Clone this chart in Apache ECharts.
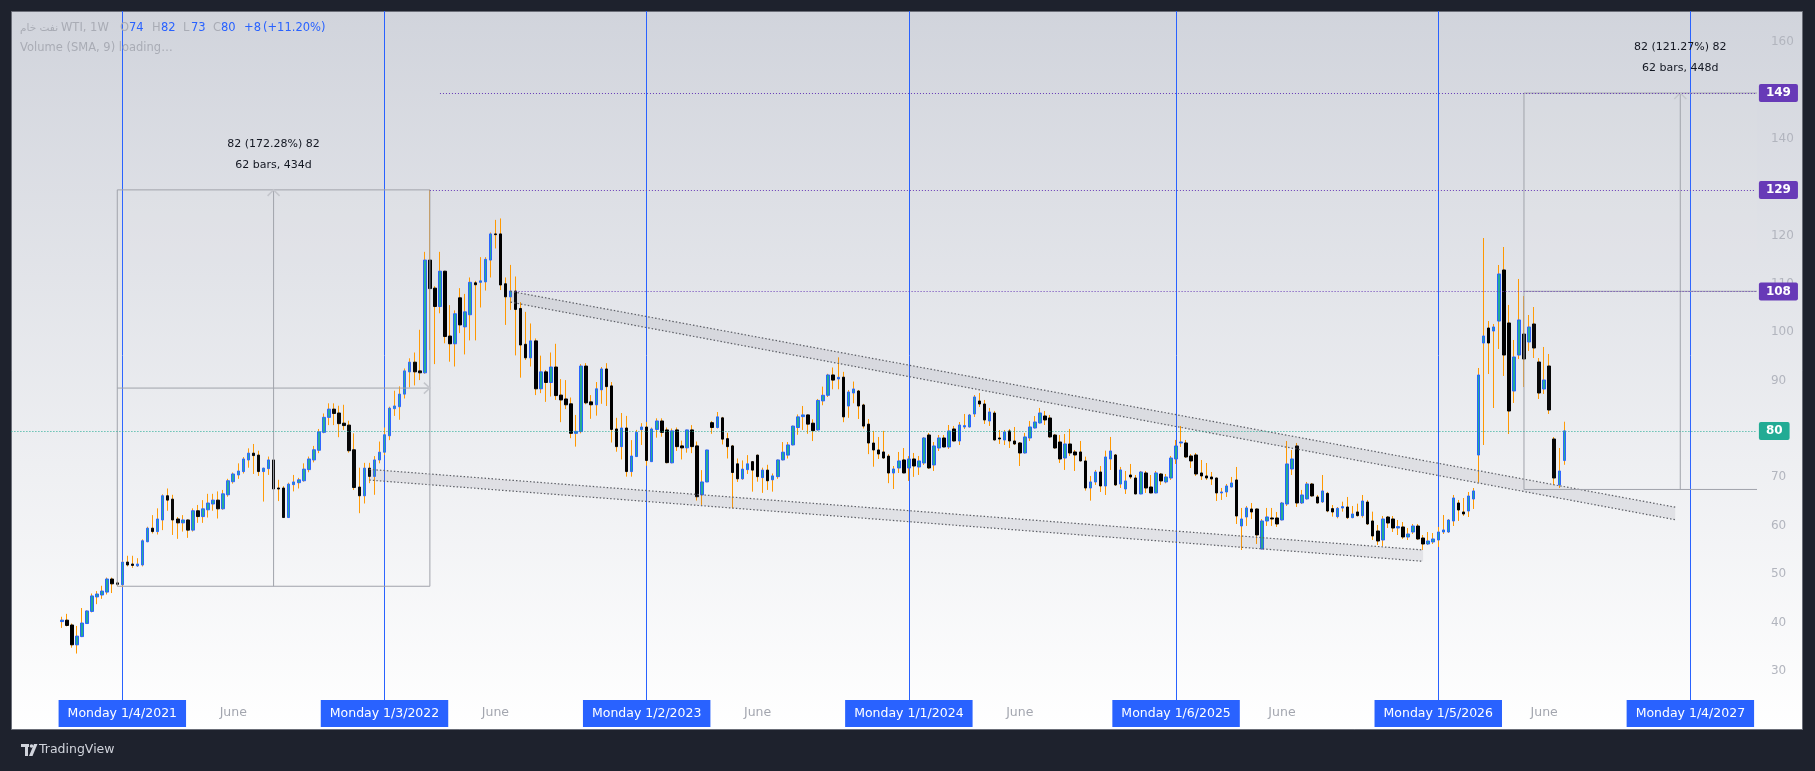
<!DOCTYPE html>
<html>
<head>
<meta charset="utf-8">
<script src="https://cdn.jsdelivr.net/npm/echarts@6/dist/echarts.min.js"></script>
<style>
html,body{margin:0;padding:0;background:#1e222d;overflow:hidden;}
#chart{width:1815px;height:771px;}
</style>
</head>
<body>
<div id="chart"></div>
<script>
// ---------- DATA ----------
const firstCategoryDate = '2020-08-03';   // weekly categories start here
const categoryCount = 347;
const firstCandleIndex = 10;              // first candle: week of 2020-10-12

const opens = [
40.2,40.5,39.5,35.4,37.1,39.8,42.3,45.3,45.7,46.3,49.0,48.2,
47.8,52.5,52.1,51.7,51.9,56.7,59.5,58.8,61.2,66.2,65.5,61.4,60.6,61.2,
59.1,63.1,61.9,63.3,64.5,65.3,63.5,66.4,69.1,70.5,71.2,73.6,75.0,74.6,
71.2,71.8,73.6,67.8,67.8,61.7,68.5,68.9,69.3,71.6,73.6,75.6,
79.3,82.4,84.1,83.3,81.2,80.8,75.7,68.0,66.2,71.9,70.2,73.6,
75.2,78.6,84.2,84.6,87.2,91.8,93.8,92.0,91.6,114.9,109.1,105.3,
112.6,99.2,97.6,107.1,101.1,103.6,110.2,110.3,110.4,114.9,120.3,120.3,
110.0,107.3,108.5,104.9,97.5,94.7,98.2,88.3,91.8,89.6,92.8,87.0,86.2,85.2,79.1,
79.45,93.0,85.6,85.0,88.1,92.4,88.9,80.0,76.35,80.2,71.2,74.3,79.86,80.4,
73.25,79.9,81.65,79.8,73.0,79.8,76.5,76.1,79.8,76.5,66.4,69.05,
81.3,80.3,82.3,78.0,76.5,72.8,69.7,71.6,73.25,74.6,69.95,71.5,69.5,
70.15,73.6,74.6,76.7,80.3,82.55,82.9,81.2,79.8,85.8,86.96,91.16,90.33,
90.7,84.75,87.44,87.85,84.96,81.0,77.1,75.66,75.25,74.4,70.9,71.94,73.6,
71.94,73.8,72.15,72.97,78.76,72.56,76.07,78.14,76.28,80.0,77.52,80.41,80.41,
83.1,85.78,85.16,81.65,83.3,78.14,77.73,79.59,77.52,77.11,75.04,78.14,80.2,
81.24,82.68,82.27,78.76,77.31,74.0,76.9,75.25,75.25,
73.39,67.81,69.05,71.11,68.22,73.8,74.63,68.63,67.6,70.49,69.87,66.57,70.91,
68.01,66.78,70.7,69.05,69.87,73.8,77.11,77.11,74.42,74.63,70.91,70.29,70.08,
69.87,66.78,66.98,68.01,69.46,59.96,61.82,63.47,63.47,55.2,60.99,61.61,61.61,
61.2,64.5,71.73,76.49,64.71,65.54,68.63,65.95,64.92,66.7,63.54,61.88,63.67,
63.88,61.68,62.85,62.09,64.91,60.99,58.92,57.06,61.81,61.4,59.54,59.75,57.68,
58.71,59.95,57.47,56.23,56.65,57.06,58.71,58.71,60.99,64.71,62.85,63.05,65.53,
74.62,97.76,100.86,100.24,102.3,112.85,101.9,87.85,95.28,99.62,97.97,101.69,93.84,88.26,93.01,77.93,68.43,73.5
];
const highs = [
41.2,41.8,39.8,39.3,43.0,42.5,46.0,46.5,47.6,49.3,49.3,48.5,
52.8,53.8,53.8,53.3,57.2,59.8,62.2,63.6,66.5,67.7,66.4,61.8,62.2,61.3,
63.6,64.3,65.3,66.6,66.6,67.1,67.4,69.7,71.0,72.9,74.2,76.0,76.9,75.5,
72.0,74.3,73.7,69.5,68.2,68.9,70.5,69.9,72.9,74.3,76.5,80.0,
83.2,85.3,85.3,84.8,85.0,81.7,79.1,72.0,73.0,73.0,74.4,77.4,
80.3,84.6,87.9,88.8,92.5,94.6,95.8,100.5,116.6,129.4,109.5,116.6,
112.7,105.6,104.5,109.1,107.9,111.3,110.6,115.5,115.5,120.6,123.2,123.5,
111.3,113.9,111.5,106.2,104.2,101.8,98.7,95.15,92.2,95.8,97.6,90.3,90.1,86.5,82.9,
93.4,93.6,87.0,89.7,92.8,93.6,89.7,82.3,83.3,82.7,77.7,79.8,81.2,81.45,
80.3,82.2,82.2,80.3,80.1,80.3,77.6,79.85,80.8,77.4,71.5,75.7,
81.65,83.5,82.5,79.2,76.7,73.9,73.5,74.6,73.3,74.7,72.0,72.6,70.8,
73.7,77.3,77.3,80.7,83.0,84.75,83.0,82.0,86.2,88.75,91.4,92.7,94.8,
91.8,88.06,89.8,88.06,85.2,82.06,79.6,78.35,79.6,74.8,72.35,75.25,76.07,
74.4,75.04,74.42,78.35,79.17,77.31,78.76,78.76,80.82,80.62,81.44,83.1,83.1,
87.02,87.44,85.99,84.34,83.72,79.79,79.79,80.0,80.41,77.3,79.17,81.65,82.68,
84.34,83.72,82.89,78.97,78.76,78.97,80.0,75.66,77.52,
74.28,70.29,71.53,72.35,75.52,78.35,74.83,72.15,71.32,72.77,70.49,71.32,71.32,
70.49,71.32,70.91,70.7,74.42,77.73,80.62,77.73,74.83,75.04,73.59,72.97,71.11,
69.95,67.81,68.63,70.08,72.15,63.68,64.09,64.71,63.6,61.4,63.68,63.68,62.85,
64.92,77.52,75.66,77.11,67.4,69.05,68.84,66.36,70.49,67.0,64.29,63.88,64.98,
65.95,64.09,64.57,66.36,65.33,62.92,60.16,62.02,62.02,62.02,61.19,60.78,59.54,
60.37,60.37,58.09,58.71,58.5,59.75,62.23,61.4,66.36,65.33,65.74,66.98,67.8,
92.6,119.46,102.3,101.69,113.88,117.6,105.62,98.38,110.99,107.47,103.55,105.2,94.66,96.94,95.49,78.34,76.07,81.5
];
const lows = [
38.9,39.2,34.8,33.6,37.0,39.7,42.1,43.8,44.9,45.8,46.1,47.5,
47.3,51.6,51.3,51.5,51.6,56.6,58.4,58.2,59.1,63.1,58.1,57.3,58.8,57.5,
58.8,60.6,60.6,61.7,63.1,61.5,63.3,66.0,68.7,69.7,70.8,72.0,70.7,70.3,
65.0,70.5,67.5,65.1,61.6,61.6,67.1,67.7,69.1,71.05,73.1,75.0,
79.1,80.8,80.8,78.3,79.8,75.1,67.4,62.6,64.6,68.8,66.4,72.9,
74.6,77.7,82.7,81.9,86.3,88.6,89.0,90.1,91.4,96.3,93.4,103.9,
97.7,93.9,92.9,99.8,95.4,98.3,98.3,105.1,108.6,111.3,117.3,108.7,
101.5,104.6,95.2,90.6,94.25,92.9,87.0,87.4,85.6,86.7,86.0,81.4,84.1,78.1,76.35,
79.1,85.1,82.1,82.75,85.2,84.75,77.2,75.3,73.7,70.15,70.15,74.2,76.7,72.4,
73.2,78.2,78.4,72.9,72.9,75.45,73.7,75.1,75.0,65.2,64.3,69.0,
79.0,80.1,76.8,73.9,63.6,69.05,69.5,70.7,67.05,69.1,66.8,67.4,67.05,
69.7,73.5,73.9,76.6,78.8,79.8,79.0,77.5,79.65,84.9,86.6,88.2,88.2,
81.4,82.3,85.3,82.06,80.1,74.8,72.2,73.8,73.8,68.8,67.6,70.9,70.85,
69.26,70.1,70.5,72.56,71.73,71.32,75.45,76.2,75.87,77.4,76.69,80.0,80.3,
82.48,84.54,81.03,80.62,77.6,76.9,76.69,76.07,76.69,72.35,74.9,77.52,80.1,
81.1,80.82,78.2,75.9,72.97,71.53,74.42,71.32,73.3,
67.26,65.19,68.43,66.98,66.36,71.53,68.22,67.81,66.57,69.67,66.5,66.5,66.78,
66.7,66.7,68.43,68.77,69.46,72.77,76.28,74.0,71.94,70.29,69.46,69.46,68.43,
65.12,65.33,65.95,67.9,60.37,54.99,59.96,61.4,56.24,55.1,59.96,59.96,59.75,
61.1,64.09,70.49,63.88,64.5,65.4,66.0,64.6,64.71,62.8,61.88,61.54,62.92,
61.4,61.54,61.9,61.68,60.16,57.06,56.03,55.82,59.54,58.71,58.09,57.27,57.06,
58.3,57.06,55.0,56.03,56.23,55.62,58.3,58.5,59.95,60.99,62.02,61.81,63.47,
68.91,76.69,91.36,84.33,96.52,90.95,78.96,85.37,94.46,88.67,96.11,94.66,86.19,87.23,83.09,68.43,67.81,72.6
];
const closes = [
40.5,39.4,35.4,37.2,39.9,42.4,45.5,45.9,46.5,49.0,48.0,47.9,
52.5,51.9,51.8,52.1,56.9,59.5,58.8,61.4,66.2,65.3,61.2,60.6,61.2,59.1,
63.1,61.9,63.5,64.7,65.3,63.5,66.6,69.3,70.7,71.3,73.8,75.0,74.5,71.2,
71.9,73.6,67.6,67.6,61.7,68.6,69.05,69.5,71.7,73.8,75.7,79.4,
82.4,84.1,83.2,81.1,80.7,75.5,67.9,66.2,71.9,70.2,73.6,75.2,
78.8,84.3,84.75,87.2,92.0,93.8,91.8,91.6,114.9,109.0,105.3,112.6,
99.1,97.6,103.8,101.5,104.2,110.3,109.8,110.6,115.05,120.3,120.15,109.75,
107.3,108.5,104.7,97.35,94.7,98.2,88.3,91.8,89.6,92.8,86.9,86.0,85.0,79.1,79.5,
93.0,85.4,85.0,88.3,92.4,88.75,79.9,76.35,80.2,71.2,74.4,79.3,80.4,73.5,
80.0,81.65,79.3,73.04,79.6,76.35,76.1,79.8,76.35,66.0,69.05,75.66,
80.3,82.5,77.9,76.35,71.0,69.7,71.7,72.8,71.5,70.15,71.5,69.3,70.3,
73.6,75.2,76.7,80.6,82.5,82.9,81.0,79.65,85.9,86.96,91.16,90.1,90.67,
82.5,87.64,88.26,84.75,80.6,77.1,75.66,74.83,74.0,70.9,71.73,73.39,70.91,
73.8,72.35,73.39,78.14,71.94,76.49,78.14,76.28,79.59,77.52,80.82,80.69,82.89,
86.61,85.16,81.86,83.51,77.73,77.93,79.38,77.52,76.9,75.04,78.35,80.41,81.44,
83.3,81.86,78.35,76.07,73.8,76.9,75.04,74.63,73.39,
67.81,69.05,71.11,68.22,74.21,75.45,68.43,71.53,69.26,70.08,66.57,71.11,67.81,
66.78,70.91,69.26,70.08,74.0,76.49,77.31,74.21,73.39,70.7,70.29,69.87,69.67,
66.78,66.98,68.22,68.84,62.02,61.4,63.68,62.85,58.1,60.99,61.82,61.4,60.37,
64.71,72.77,73.8,64.71,66.36,68.63,66.16,64.71,67.19,63.05,62.85,63.6,63.95,
61.68,62.43,62.09,65.12,60.37,57.89,56.85,61.4,60.57,59.54,59.82,57.68,58.3,
59.95,57.27,56.23,56.85,57.27,58.71,59.13,61.19,65.74,63.26,62.43,66.15,67.19,
91.15,99.21,97.76,101.07,112.02,95.28,83.71,94.87,102.52,94.46,101.07,96.73,87.43,90.12,83.92,69.87,71.32,79.6
];

const priceTicks = [30,40,50,60,70,80,90,100,110,120,130,140,150,160];
const yearMarkIdx = [22, 74, 126, 178, 231, 283, 333];
const yearMarkLabels = ['Monday 1/4/2021','Monday 1/3/2022','Monday 1/2/2023','Monday 1/1/2024','Monday 1/6/2025','Monday 1/5/2026','Monday 1/4/2027'];
const juneIdx = [44, 96, 148, 200, 252, 304];
const juneLabel = 'June';

const levelPrices = [149.4, 129.4, 108.4];
const levelStartIdx = [85, 83, 100];

const channels = [
  { x1: 71, top1: 71.65, bot1: 69.44, x2: 280, top2: 55.0, bot2: 52.66 },
  { x1: 99, top1: 108.44, bot1: 106.2, x2: 330, top2: 63.84, bot2: 61.24 }
];
const rangeTools = [
  { x1: 21, x2: 83, low: 47.5, high: 129.4, lines: ['82 (172.28%) 82', '62 bars, 434d'] },
  { x1: 300, x2: 362, low: 67.5, high: 149.4, lines: ['82 (121.27%) 82', '62 bars, 448d'] }
];

const legendTitleAr = 'نفت خام';
const legendTitle = 'WTI, 1W';
const legendOHLC = [['O','74'],['H','82'],['L','73'],['C','80']];
const legendChange = ['+8', '(+11.20%)'];
const legendVolume = 'Volume (SMA, 9) loading…';

// ---------- BUILD ----------
const FONT = 'DejaVu Sans';
const categories = [];
{
  const t0 = Date.parse(firstCategoryDate + 'T00:00:00Z');
  for (let i = 0; i < categoryCount; i++) {
    categories.push(new Date(t0 + i * 7 * 86400000).toISOString().slice(0, 10));
  }
}
const n = opens.length;
const wickData = opens.map((o, k) => [firstCandleIndex + k, o, closes[k], lows[k], highs[k]]);
const bodyData = opens.map((o, k) => [firstCandleIndex + k, o, closes[k], Math.min(o, closes[k]), Math.max(o, closes[k])]);
const lastClose = closes[n - 1];

const chart = echarts.init(document.getElementById('chart'), null, { renderer: 'canvas' });

const DOT = [1, 2];
const yearLineData = yearMarkIdx.map((idx, i) => ({
  xAxis: categories[idx],
  label: { formatter: yearMarkLabels[i] }
}));

const priceLabelBase = {
  show: true, position: 'end', distance: 3, color: '#ffffff', fontWeight: 'bold',
  fontSize: 12, fontFamily: FONT, padding: [3, 7, 2, 7], lineHeight: 13, borderRadius: 2
};
const levelLineData = levelPrices.map((p, i) => [
  {
    coord: [categories[levelStartIdx[i]], p],
    lineStyle: { color: '#673ab7', type: DOT, width: 1 },
    label: Object.assign({}, priceLabelBase, { backgroundColor: '#673ab7', formatter: String(Math.round(p)) })
  },
  { coord: [categories[categoryCount - 1], p] }
]);
levelLineData.push({
  yAxis: lastClose,
  lineStyle: { color: '#22ab94', type: DOT, width: 1 },
  label: Object.assign({}, priceLabelBase, { backgroundColor: '#22ab94', formatter: String(Math.round(lastClose)) })
});

function renderChannel(params, api) {
  const c = channels[params.dataIndex];
  const a = api.coord([c.x1, c.top1]);
  const b = api.coord([c.x2, c.top2]);
  const cc = api.coord([c.x2, c.bot2]);
  const d = api.coord([c.x1, c.bot1]);
  const dash = { stroke: '#5d5f66', lineWidth: 1.2, lineDash: [1.5, 2] };
  return {
    type: 'group',
    children: [
      { type: 'polygon', shape: { points: [a, b, cc, d] }, style: { fill: 'rgba(105,108,120,0.12)' } },
      { type: 'line', shape: { x1: a[0], y1: a[1], x2: b[0], y2: b[1] }, style: Object.assign({}, dash) },
      { type: 'line', shape: { x1: d[0], y1: d[1], x2: cc[0], y2: cc[1] }, style: Object.assign({}, dash) }
    ]
  };
}

function renderRange(params, api) {
  const r = rangeTools[params.dataIndex];
  const cs = params.coordSys;
  const tl = api.coord([r.x1, r.high]);
  const br = api.coord([r.x2, r.low]);
  const xm = api.coord([(r.x1 + r.x2) / 2, r.low])[0];
  const ym = api.coord([r.x1, (r.low + r.high) / 2])[1];
  let xr = br[0];
  if (!isFinite(xr)) xr = cs.x + cs.width + 100;
  const stroke = '#a0a3ab';
  const head = '#c4c6cc';
  const txt = { align: 'center', verticalAlign: 'middle', fill: '#131722', font: '11px "DejaVu Sans"' };
  return {
    type: 'group',
    children: [
      { type: 'rect', shape: { x: tl[0], y: tl[1], width: xr - tl[0], height: br[1] - tl[1] },
        style: { fill: 'rgba(255,255,255,0.03)', stroke: stroke, lineWidth: 1 } },
      { type: 'line', shape: { x1: tl[0], y1: ym, x2: xr, y2: ym }, style: { stroke: stroke, lineWidth: 1 } },
      { type: 'polyline', shape: { points: [[xr - 6, ym - 5.5], [xr, ym], [xr - 6, ym + 5.5]] },
        style: { stroke: head, lineWidth: 1.5, fill: 'none' } },
      { type: 'line', shape: { x1: xm, y1: br[1], x2: xm, y2: tl[1] }, style: { stroke: stroke, lineWidth: 1 } },
      { type: 'polyline', shape: { points: [[xm - 6, tl[1] + 6], [xm, tl[1]], [xm + 6, tl[1] + 6]] },
        style: { stroke: head, lineWidth: 1.5, fill: 'none' } },
      { type: 'text', style: Object.assign({ text: r.lines[0], x: xm, y: tl[1] - 46 }, txt) },
      { type: 'text', style: Object.assign({ text: r.lines[1], x: xm, y: tl[1] - 25 }, txt) }
    ]
  };
}

// legend graphics
const GRAY = '#a9acb5', BLUE = '#2962ff';
const legendFont = '11.5px "DejaVu Sans"';
const legendEls = [];
function addText(x, y, text, fill, font) {
  legendEls.push({ type: 'text', z: 100, silent: true,
    style: { text: text, x: x, y: y, fill: fill, font: font || legendFont, align: 'left', verticalAlign: 'middle' } });
}
addText(20, 28, legendTitleAr, GRAY, '10.5px "DejaVu Sans"');
addText(61, 28, legendTitle, GRAY);
const ohlcX = [[120, 129], [152, 161], [183, 191], [213, 221]];
legendOHLC.forEach((p, i) => { addText(ohlcX[i][0], 28, p[0], GRAY); addText(ohlcX[i][1], 28, p[1], BLUE); });
addText(244, 28, legendChange[0], BLUE);
addText(263, 28, legendChange[1], BLUE);
addText(20, 48, legendVolume, GRAY);
if (opens.length !== highs.length || opens.length !== lows.length || opens.length !== closes.length) {
  addText(400, 28, 'LEN MISMATCH ' + [opens.length, highs.length, lows.length, closes.length].join(','), '#f00');
}

const option = {
  animation: false,
  backgroundColor: '#1e222d',
  textStyle: { fontFamily: FONT },
  grid: { left: 11.4, right: 59.1, top: 11, bottom: 71, containLabel: false, outerBoundsMode: 'none' },
  xAxis: {
    type: 'category',
    data: categories,
    boundaryGap: false,
    axisLine: { show: false },
    axisTick: { show: false },
    splitLine: { show: false },
    axisPointer: { show: false },
    axisLabel: {
      interval: (i) => juneIdx.indexOf(i) >= 0,
      formatter: () => juneLabel,
      color: '#a3a6af', fontSize: 12.5, margin: 6, fontFamily: FONT
    }
  },
  yAxis: {
    type: 'value',
    position: 'right',
    min: 24,
    max: 166.36,
    splitNumber: 14,
    axisLine: { show: false },
    axisTick: { show: false },
    splitLine: { show: false },
    axisLabel: {
      color: '#b2b5be', fontSize: 12, fontFamily: FONT, margin: 15,
      formatter: (v) => (priceTicks.indexOf(Math.round(v * 1000) / 1000) >= 0 ? String(v) : '')
    }
  },
  graphic: [
    { type: 'rect', z: -10, silent: true, shape: { x: 11.5, y: 11.5, width: 1791, height: 718 },
      style: { fill: { type: 'linear', x: 0, y: 0, x2: 0, y2: 1,
        colorStops: [{ offset: 0, color: '#d1d4dc' }, { offset: 1, color: '#ffffff' }] },
        stroke: '#6b6e78', lineWidth: 1 } },
    // TradingView logo
    { type: 'rect', z: 100, silent: true, shape: { x: 21, y: 744, width: 8, height: 3 }, style: { fill: '#d1d4dc' } },
    { type: 'rect', z: 100, silent: true, shape: { x: 25, y: 744, width: 3, height: 12 }, style: { fill: '#d1d4dc' } },
    { type: 'circle', z: 100, silent: true, shape: { cx: 31.5, cy: 746, r: 1.8 }, style: { fill: '#d1d4dc' } },
    { type: 'polygon', z: 100, silent: true, shape: { points: [[34, 744], [37.5, 744], [32.5, 756], [29, 756]] }, style: { fill: '#d1d4dc' } },
    { type: 'text', z: 100, silent: true, style: { text: 'TradingView', x: 39, y: 750, fill: '#d1d4dc',
      font: '12.5px "DejaVu Sans"', align: 'left', verticalAlign: 'middle' } }
  ].concat(legendEls),
  series: [
    {
      name: 'wick',
      type: 'candlestick',
      data: wickData,
      encode: { x: 0, y: [1, 2, 3, 4] },
      barWidth: 1,
      silent: true,
      itemStyle: { color: '#ff9800', color0: '#ff9800', borderColor: '#ff9800', borderColor0: '#ff9800', borderWidth: 1 },
      markLine: {
        silent: true, z: 1, symbol: ['none', 'none'], animation: false,
        lineStyle: { color: '#2962ff', width: 1, type: 'solid' },
        label: {
          show: true, position: 'start', distance: 0, color: '#ffffff', backgroundColor: '#2962ff',
          padding: [7, 9, 7, 9], fontSize: 12.5, lineHeight: 13, fontFamily: FONT
        },
        emphasis: { disabled: true },
        data: yearLineData
      }
    },
    {
      name: 'body',
      type: 'candlestick',
      data: bodyData,
      encode: { x: 0, y: [1, 2, 3, 4] },
      barWidth: 3,
      silent: true,
      itemStyle: { color: '#22ab94', color0: '#000000', borderColor: '#2962ff', borderColor0: '#000000', borderWidth: 1 },
      markLine: {
        silent: true, symbol: ['none', 'none'], animation: false,
        emphasis: { disabled: true },
        data: levelLineData
      }
    },
    {
      name: 'channels',
      type: 'custom',
      silent: true,
      z: 3,
      clip: true,
      data: channels.map(c => [c.x1, c.top1]),
      renderItem: renderChannel
    },
    {
      name: 'ranges',
      type: 'custom',
      silent: true,
      z: 4,
      clip: true,
      data: rangeTools.map(r => [r.x1, r.high]),
      renderItem: renderRange
    }
  ]
};
chart.setOption(option);
</script>
</body>
</html>
